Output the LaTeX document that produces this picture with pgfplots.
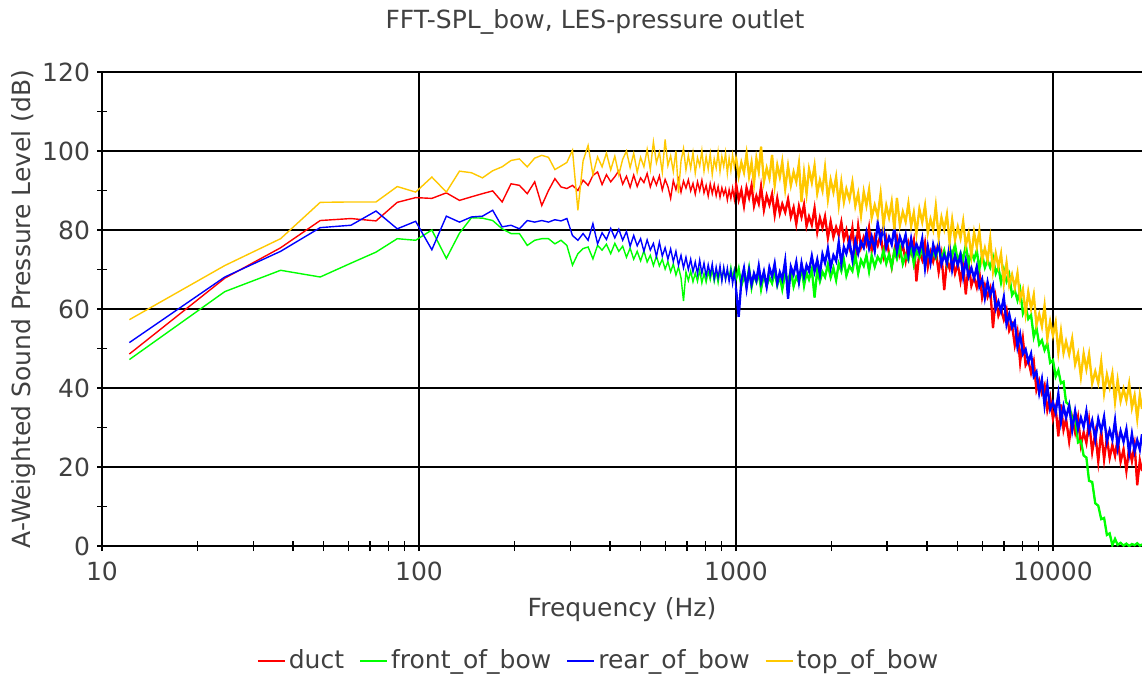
\documentclass[border=0pt]{standalone}
\usepackage{fontspec}
\setmainfont{DejaVu Sans}
\usepackage{pgfplots}
\pgfplotsset{compat=1.18}
\usepackage{pgfplotstable}
\definecolor{txt}{HTML}{404040}
\definecolor{cduct}{RGB}{255,0,0}
\definecolor{cfront}{RGB}{0,255,0}
\definecolor{crear}{RGB}{0,0,255}
\definecolor{ctop}{RGB}{255,200,0}

\pgfplotstableread{
f duct front rear top
12.2 48.6 47.2 51.5 57.3
24.4 67.8 64.4 68.1 71.0
36.6 75.5 69.8 74.6 77.8
48.8 82.4 68.1 80.6 87.0
61 82.9 71.6 81.2 87.1
73.2 82.3 74.4 84.8 87.1
85.4 87.0 77.8 80.3 91.0
97.6 88.2 77.4 82.2 89.6
109.8 88.0 80.0 75.0 93.4
122 89.4 72.8 83.5 89.6
134.2 87.5 79.2 82.0 94.9
146.4 88.4 83.1 83.3 94.5
158.6 89.2 83.0 83.5 93.2
170.8 89.9 82.4 85.0 95.0
183 87.1 80.3 80.8 96.0
195.2 91.7 79.1 81.2 97.6
207.4 91.3 79.1 80.3 98.0
219.6 89.2 76.1 82.4 96.0
231.8 92.2 77.4 82.0 98.2
244 86.2 77.8 82.4 98.9
256.2 90.0 77.8 82.0 98.4
268.4 93.0 76.5 82.6 95.3
280.6 90.9 77.4 82.3 96.2
292.8 90.5 76.1 82.9 97.1
305 91.3 71.1 78.6 100.2
317.2 90.0 74.0 77.4 85.0
329.4 92.6 75.3 79.1 97.5
341.6 91.3 75.7 77.4 101.4
353.8 93.8 72.7 81.6 94.0
366 94.7 76.1 76.5 98.5
378.2 91.5 74.9 79.3 96.0
390.4 94.0 76.4 77.6 99.5
402.6 92.2 74.0 80.4 95.2
414.8 93.5 76.6 78.0 98.7
427 95.0 74.6 80.2 94.0
439.2 91.6 75.9 77.4 97.9
451.4 93.6 73.1 79.6 100.0
463.6 90.8 75.4 75.9 95.8
475.8 93.9 72.6 78.6 99.4
488 91.0 74.6 76.0 94.6
500.2 93.2 72.2 77.8 98.4
512.4 92.0 74.7 74.6 96.0
524.6 94.3 71.9 77.5 100.4
536.8 90.9 73.6 74.9 95.3
549 93.3 71.0 76.6 102.3
561.2 91.4 73.4 73.3 97.0
573.4 93.7 70.9 76.9 99.7
585.6 90.1 72.6 73.4 94.6
597.8 92.8 70.1 75.5 102.9
610 91.0 72.0 72.6 96.3
622.2 88.0 69.4 75.2 98.8
634.4 92.5 71.4 72.0 94.8
646.6 90.2 68.6 74.6 100.1
658.8 92.9 70.6 71.1 89.3
671 89.6 67.9 73.6 97.5
683.2 92.4 62.0 70.4 100.6
695.4 90.6 69.4 73.1 95.2
707.6 92.7 67.2 70.0 98.9
719.8 89.9 69.6 72.6 95.6
732 91.8 66.9 69.4 99.6
744.2 89.1 69.1 71.9 94.4
756.4 92.2 67.0 68.9 98.3
768.6 90.0 69.8 72.4 96.2
780.8 92.6 66.6 69.0 100.1
793 89.4 69.0 71.6 94.9
805.2 91.3 66.8 68.3 98.6
817.4 88.6 69.5 71.2 95.4
829.6 91.7 67.4 68.6 99.3
841.8 89.2 70.1 71.4 94.0
854 91.5 67.0 67.6 98.0
866.2 88.7 69.5 70.6 95.7
878.4 91.0 66.7 67.9 99.8
890.6 88.3 69.9 70.9 94.8
902.8 90.7 67.4 67.1 98.6
915 88.9 70.2 70.5 96.1
927.2 90.4 67.5 67.5 99.5
939.4 87.6 69.6 70.3 94.3
951.6 90.2 67.8 67.0 98.2
963.8 88.0 70.6 69.7 95.0
976 90.6 68.0 66.4 99.0
988.2 87.8 70.0 69.4 96.0
1000 91.9 67.5 65.3 98.5
1020 87.6 70.2 58.0 93.6
1040 90.1 65.9 67.2 97.1
1060 86.1 68.1 70.3 94.6
1080 90.7 66.6 65.2 99.3
1100 88.2 70.3 69.8 93.6
1120 91.3 65.5 66.2 97.1
1140 86.1 68.7 69.0 91.8
1160 88.6 66.9 67.2 98.1
1180 86.7 69.3 70.9 94.8
1200 91.0 65.0 66.7 101.1
1225 85.1 68.8 69.5 92.2
1250 88.7 65.8 65.6 95.7
1275 86.4 68.0 70.5 93.1
1300 89.1 66.5 68.2 99.0
1325 83.8 69.5 71.5 91.3
1350 88.0 66.0 66.5 96.4
1375 84.2 68.3 69.3 93.4
1400 86.6 65.0 67.5 97.3
1430 84.5 69.0 72.2 90.4
1460 87.8 67.0 62.6 96.2
1490 83.3 69.8 70.7 91.3
1520 85.7 65.7 68.7 94.7
1550 81.5 68.1 71.9 92.2
1580 86.0 66.7 66.9 96.8
1610 83.3 70.5 71.6 87.1
1640 86.4 65.9 68.2 94.5
1670 81.0 69.2 71.1 89.2
1700 83.4 67.5 69.6 95.4
1735 81.3 70.1 73.4 92.0
1770 85.5 62.9 69.5 96.3
1805 79.5 69.8 72.5 89.3
1840 83.1 67.0 68.8 92.6
1875 80.6 69.4 73.9 90.0
1910 83.4 68.1 71.7 95.7
1950 78.0 71.3 75.3 87.8
1990 82.1 68.0 70.5 92.7
2030 78.2 70.4 73.6 89.6
2070 80.7 67.3 72.1 93.4
2110 78.7 71.5 76.9 86.4
2150 82.0 69.6 71.5 92.1
2190 77.6 72.5 75.7 87.1
2230 80.0 68.4 74.0 90.4
2280 75.9 70.9 77.3 87.7
2330 80.5 69.6 72.5 92.1
2380 72.9 73.5 77.3 86.1
2430 81.0 69.0 74.0 89.3
2480 75.7 72.4 77.0 83.7
2530 78.2 70.9 75.5 89.7
2580 76.3 73.6 79.3 86.2
2630 80.6 69.5 75.4 90.2
2680 74.7 73.5 78.3 83.1
2740 78.4 70.7 74.7 86.3
2800 76.1 73.2 81.8 83.5
2860 78.9 71.9 77.4 89.2
2920 73.6 74.8 80.7 81.3
2980 77.9 71.5 75.6 86.2
3040 74.1 73.8 78.2 83.2
3100 70.6 70.6 76.3 87.1
3160 74.7 74.7 80.6 80.2
3220 78.1 72.7 74.6 88.1
3290 73.7 75.6 78.3 81.2
3360 76.3 71.4 76.0 84.6
3430 72.2 73.7 78.8 82.1
3500 76.8 72.3 73.5 86.7
3570 74.2 76.1 77.8 81.0
3640 77.3 71.4 74.0 84.4
3710 67.0 74.7 76.5 79.1
3790 74.4 73.1 74.4 85.3
3870 72.4 75.6 77.8 82.0
3950 76.7 71.5 70.4 86.2
4030 70.7 75.3 75.8 79.3
4110 74.4 72.3 71.7 82.7
4190 72.0 74.5 76.3 80.1
4270 74.8 73.0 73.6 86.0
4360 69.4 76.0 76.6 78.2
4450 73.7 72.5 71.3 83.2
4540 64.8 74.8 73.7 80.2
4630 72.2 71.5 71.6 83.9
4720 70.2 75.5 75.9 76.9
4810 73.5 73.5 69.9 82.6
4910 69.0 76.3 73.5 77.5
5010 71.4 72.0 71.1 80.8
5110 67.1 74.2 73.7 77.9
5210 71.5 72.6 68.2 82.2
5310 63.7 76.2 72.3 76.1
5420 71.5 71.4 68.2 79.1
5530 65.9 74.5 70.4 73.4
5640 68.0 72.5 67.8 79.4
5750 65.5 74.8 70.7 75.7
5860 69.3 70.3 65.7 79.7
5980 62.9 73.8 67.6 72.4
6100 66.0 70.5 62.8 75.4
6220 63.1 72.4 66.8 72.4
6340 65.2 70.5 63.5 77.8
6470 55.2 73.1 65.9 69.6
6600 62.8 69.0 60.0 74.1
6730 58.3 70.6 61.9 70.7
6860 60.1 66.7 59.4 74.0
7000 57.3 70.0 63.0 66.5
7140 59.8 67.0 56.1 71.7
7280 54.5 68.8 58.7 66.0
7430 56.0 63.5 55.3 68.7
7580 50.8 64.7 56.9 65.4
7730 54.2 62.2 50.4 69.1
7880 46.5 64.9 53.6 62.5
8040 52.4 58.9 48.6 65.0
8200 45.8 60.7 49.8 58.8
8360 47.1 57.5 46.6 64.3
8530 43.8 58.5 48.7 60.1
8700 46.7 52.9 42.9 63.6
8870 39.5 55.3 44.1 56.0
9050 41.9 51.0 38.7 58.7
9230 38.7 52.1 42.2 55.6
9410 40.7 49.6 35.6 60.9
9600 34.4 51.3 40.7 52.5
9800 37.7 46.4 34.6 56.9
10000 32.2 47.1 36.4 53.3
10200 35.0 42.9 33.8 56.6
10400 27.8 44.5 38.5 49.1
10600 35.8 41.2 31.4 54.4
10800 29.4 41.6 35.4 48.9
11000 32.2 36.4 32.5 51.8
11250 26.5 35.7 35.6 48.5
11500 32.4 32.0 29.3 52.5
11750 28.7 32.5 34.2 46.0
12000 32.6 26.2 29.6 48.7
12250 25.5 26.6 32.5 42.9
12500 28.8 22.9 30.1 48.7
12750 26.1 22.4 34.1 44.8
13000 31.8 16.5 28.9 48.6
13300 23.8 16.2 31.8 41.2
13600 28.6 10.8 26.9 44.2
13900 21.4 10.2 32.2 41.2
14200 29.1 6.8 29.1 46.7
14500 21.9 7.1 32.7 38.7
14800 27.5 2.8 26.4 43.4
15100 22.3 3.2 29.3 40.2
15400 25.6 0.2 26.9 43.7
15700 22.8 1.8 31.8 36.5
16000 27.2 0.3 24.9 42.0
16350 21.3 0.8 29.1 36.7
16700 24.5 0.1 26.4 39.8
17050 19.0 0.6 29.6 36.8
17400 25.0 0.0 23.4 41.1
17750 21.5 0.5 28.4 35.0
18100 25.6 0.2 23.9 38.1
18450 15.4 0.7 26.8 32.2
18800 21.7 0.1 24.4 38.2
19100 19.0 0.4 28.3 34.7
}\spl

\begin{document}
\begin{tikzpicture}
\begin{axis}[
  name=ax,
  scale only axis, width=520pt, height=237pt,
  xmode=log, xmin=10, xmax=19100, ymin=0, ymax=120,
  axis lines*=left,
  axis line style={-, line width=0.9pt, black},
  xtick={10,100,1000,10000}, xticklabels={10,100,1000,10000},
  minor xtick={20,30,40,50,60,70,80,90,200,300,400,500,600,700,800,900,2000,3000,4000,5000,6000,7000,8000,9000},
  ytick={0,20,40,60,80,100,120},
  minor ytick={10,30,50,70,90,110},
  grid=major,
  major grid style={line width=0.9pt, black},
  tick align=center, major tick length=5pt, minor tick length=5pt,
  every tick/.style={black, line width=0.7pt},
  font=\fontsize{12.5}{15}\selectfont,
  ticklabel style={text=txt, font=\fontsize{12.5}{15}\selectfont},
  xticklabel style={yshift=-2pt},
  /pgf/number format/assume math mode=true,
  xlabel={Frequency (Hz)},
  ylabel={A-Weighted Sound Pressure Level (dB)},
  xlabel style={text=txt, at={(axis description cs:0.5,-0.135)}, anchor=center},
  ylabel style={text=txt, at={(axis description cs:-0.075,0.5)}, anchor=center},
  every axis title shift=0pt,
  title={FFT-SPL\_bow, LES-pressure outlet},
  title style={text=txt, at={(axis description cs:0.474,1.1055)}, anchor=center},
  legend columns=4,
  legend style={draw=none, fill=none, at={(axis description cs:0.478,-0.2426)}, anchor=center,
    nodes={inner sep=1.5pt, text=txt, font=\fontsize{12.5}{15}\selectfont},
    /tikz/every even column/.append style={column sep=6pt}},
  legend image code/.code={\draw[#1, line width=1pt] (0pt,0pt) -- (13.5pt,0pt);},
  dense/.style={line width=1.15pt, mark=none, forget plot,
    restrict expr to domain={\thisrow{f}}{990:20000}},
]
\addplot[cduct, line width=0.7pt, mark=none] table[x=f, y=duct] {\spl};
\addlegendentry{duct}
\addplot[cduct, dense] table[x=f, y=duct] {\spl};
\addplot[cfront, line width=0.7pt, mark=none] table[x=f, y=front] {\spl};
\addlegendentry{front\_of\_bow}
\addplot[cfront, dense] table[x=f, y=front] {\spl};
\addplot[crear, line width=0.7pt, mark=none] table[x=f, y=rear] {\spl};
\addlegendentry{rear\_of\_bow}
\addplot[crear, dense] table[x=f, y=rear] {\spl};
\addplot[ctop, line width=0.7pt, mark=none] table[x=f, y=top] {\spl};
\addlegendentry{top\_of\_bow}
\addplot[ctop, dense] table[x=f, y=top] {\spl};
\end{axis}
\pgfresetboundingbox
\useasboundingbox ([xshift=-51pt, yshift=-64.5pt]ax.south west) rectangle ([yshift=36pt]ax.north east);
\end{tikzpicture}
\end{document}
